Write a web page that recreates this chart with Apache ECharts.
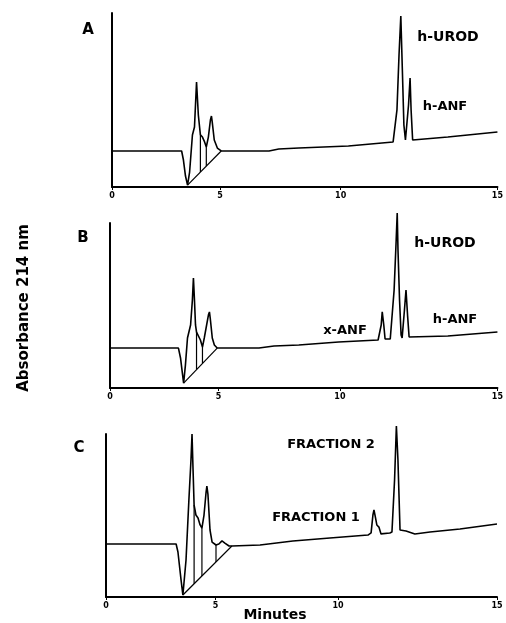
<!DOCTYPE html>
<html>
<head>
<meta charset="utf-8">
<script src="https://cdn.jsdelivr.net/npm/echarts@6/dist/echarts.min.js"></script>
<style>
  html, body { margin: 0; padding: 0; background: #fff; }
  #main { width: 506px; height: 623px; }
</style>
</head>
<body>
<div id="main"></div>
<script>
// x tick labels (positions on the drawn axis, text as printed)
var xTickPos = [0, 4.2, 8.9, 15];
var xTickText = ['0', '5', '10', '15'];

// panel A trace [minutes, absorbance units]
var traceA = [[0,20.7],[2.71,20.7],[2.78,15.5],[2.86,6.3],[2.94,1.1],[3.02,8.6],[3.13,29.9],[3.21,34.5],[3.29,60.3],[3.36,41.4],[3.44,30],[3.52,28.7],[3.59,26.4],[3.67,23.0],[3.75,28.7],[3.83,38.5],[3.87,40.8],[3.90,37.4],[3.98,27.0],[4.10,22.4],[4.25,20.7],[6.11,20.7],[6.49,21.8],[7.27,22.4],[9.2,23.6],[10.94,25.9],[11.09,44.3],[11.17,75.9],[11.24,98.3],[11.30,67.2],[11.36,35.6],[11.42,27.0],[11.48,27.0],[11.54,47.1],[11.60,62.6],[11.64,44.3],[11.70,27.0],[13.07,28.7],[15,31.6]];
// integration baseline + drop lines
var segA = [
  [[2.94,1.1],[4.25,20.7]],
  [[3.44,30],[3.44,8.6]],
  [[3.67,23.0],[3.67,12.0]]
];

var traceB = [[0,24.2],[2.65,24.2],[2.73,18.2],[2.81,7.9],[2.85,3.0],[2.92,13.9],[3.0,30.3],[3.12,38.2],[3.19,53.3],[3.23,66.7],[3.27,53.3],[3.31,38.2],[3.35,33.9],[3.42,33.9],[3.5,29.1],[3.58,24.8],[3.65,30.3],[3.81,44.2],[3.85,46.1],[3.88,42.4],[3.96,30.3],[4.04,26.1],[4.15,24.2],[5.77,24.2],[6.35,25.5],[7.31,26.1],[8.85,27.9],[10.38,29.1],[10.5,38.2],[10.54,46.1],[10.6,38.2],[10.65,29.7],[10.85,29.7],[10.88,30.3],[11.0,59.4],[11.08,89.7],[11.12,106],[11.15,83.6],[11.21,53.3],[11.27,32.1],[11.31,30.3],[11.35,30.3],[11.4,47.3],[11.46,59.4],[11.52,44.2],[11.58,30.9],[13.08,31.5],[15,33.9]];
var segB = [
  [[2.85,3.0],[4.15,24.2]],
  [[3.35,33.9],[3.35,11.2]],
  [[3.58,24.8],[3.58,14.9]]
];

var traceC = [[0,32.5],[2.69,32.5],[2.76,27.6],[2.88,10.4],[2.95,1.2],[3.07,22.7],[3.18,59.5],[3.26,84.0],[3.30,100],[3.34,77.9],[3.38,56.4],[3.45,50.3],[3.53,48.5],[3.61,44.2],[3.68,42.3],[3.76,50.3],[3.84,64.4],[3.87,68.1],[3.91,63.2],[3.99,41.1],[4.07,33.7],[4.22,31.9],[4.33,32.5],[4.45,34.4],[4.56,33.1],[4.72,31.3],[4.83,31.3],[5.91,31.9],[7.17,34.4],[8.59,36.2],[10.05,38.0],[10.17,39.3],[10.24,50.3],[10.28,53.4],[10.34,48.5],[10.39,44.2],[10.47,42.9],[10.55,38.7],[10.62,38.0],[10.89,39.3],[10.97,39.9],[11.07,71.8],[11.14,104.9],[11.2,84.0],[11.28,41.1],[11.35,39.9],[11.51,40.5],[11.85,38.7],[12.43,39.9],[13.58,41.7],[15,44.8]];
var segC = [
  [[2.95,1.2],[4.83,31.3]],
  [[3.38,56.4],[3.38,8.1]],
  [[3.68,42.3],[3.68,12.9]],
  [[4.22,31.9],[4.22,21.5]]
];

var chart = echarts.init(document.getElementById('main'));
var font = '"DejaVu Sans", sans-serif';

var grids = [
  { left: 112, right: 6, top: 13, bottom: 436 },
  { left: 110, right: 6, top: 223, bottom: 235 },
  { left: 106, right: 9, top: 434, bottom: 26 }
];
var traces = [traceA, traceB, traceC];
var segs = [segA, segB, segC];

var xAxes = [], yAxes = [], series = [];
for (var i = 0; i < 3; i++) {
  xAxes.push({
    type: 'value', gridIndex: i, min: 0, max: 15,
    axisLine: { show: true, lineStyle: { color: '#000', width: 2 } },
    axisTick: { show: true, customValues: xTickPos, length: 3, lineStyle: { color: '#000', width: 1 } },
    axisLabel: {
      show: true, customValues: xTickPos, margin: 5,
      color: '#000', fontSize: 8, fontWeight: 'bold', fontFamily: font,
      formatter: function (v) {
        var k = xTickPos.indexOf(v);
        return k >= 0 ? xTickText[k] : '';
      }
    },
    splitLine: { show: false }
  });
  yAxes.push({
    type: 'value', gridIndex: i, min: 0, max: 100,
    axisLine: { show: true, onZero: false, lineStyle: { color: '#000', width: 2 } },
    axisTick: { show: false }, axisLabel: { show: false }, splitLine: { show: false }
  });
  series.push({
    type: 'line', xAxisIndex: i, yAxisIndex: i, data: traces[i],
    showSymbol: false, clip: false, silent: true,
    lineStyle: { color: '#000', width: 1.6 }
  });
  segs[i].forEach(function (s) {
    series.push({
      type: 'line', xAxisIndex: i, yAxisIndex: i, data: s,
      showSymbol: false, silent: true,
      lineStyle: { color: '#000', width: 1.2 }
    });
  });
}

function txt(x, y, s, size, rot) {
  return {
    type: 'text', x: x, y: y, rotation: rot || 0,
    style: { text: s, font: 'bold ' + size + 'px ' + font, fill: '#000', align: 'center', verticalAlign: 'middle' }
  };
}

chart.setOption({
  animation: false,
  backgroundColor: '#fff',
  grid: grids,
  xAxis: xAxes,
  yAxis: yAxes,
  series: series,
  graphic: [
    txt(88, 30, 'A', 15),
    txt(83, 238, 'B', 15),
    txt(79, 448, 'C', 15),
    txt(448, 37, 'h-UROD', 14),
    txt(445, 107, 'h-ANF', 13),
    txt(445, 243, 'h-UROD', 14),
    txt(455, 320, 'h-ANF', 13),
    txt(345, 331, 'x-ANF', 13),
    txt(331, 445, 'FRACTION 2', 13),
    txt(316, 518, 'FRACTION 1', 13),
    txt(275, 615, 'Minutes', 14),
    txt(24, 308, 'Absorbance 214 nm', 15, Math.PI / 2)
  ]
});
</script>
</body>
</html>
